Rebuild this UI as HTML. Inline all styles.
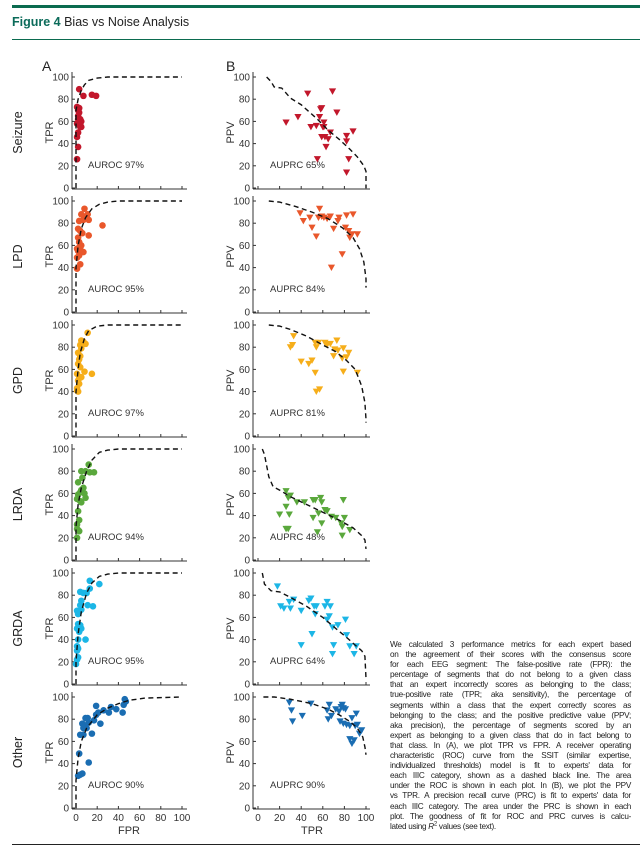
<!DOCTYPE html>
<html><head><meta charset="utf-8">
<style>
body{margin:0;background:#fff;width:640px;height:853px;overflow:hidden;font-family:"Liberation Sans",sans-serif;}
#desc{position:absolute;left:390px;top:640px;width:241px;font-size:8.2px;letter-spacing:-0.3px;line-height:10.1px;color:#222;}
#desc div{text-align:justify;text-align-last:justify;white-space:nowrap;}
#desc div.last{text-align-last:left;}
</style></head><body>
<div style="position:absolute;left:12px;top:5px;width:628px;height:3px;background:#0b6b4f"></div>
<div style="position:absolute;left:12px;top:15px;font-size:12.5px;color:#222"><b style="color:#0b6b5a">Figure 4</b> Bias vs Noise Analysis</div>
<div style="position:absolute;left:12px;top:39px;width:628px;height:1px;background:#0b6b4f"></div>
<div style="position:absolute;left:12px;top:844px;width:628px;height:1px;background:#222"></div>
<svg id="chart" width="640" height="853" style="position:absolute;left:0;top:0"></svg>
<div id="desc">
<div>We calculated 3 performance metrics for each expert based</div>
<div>on the agreement of their scores with the consensus score</div>
<div>for each EEG segment: The false-positive rate (FPR): the</div>
<div>percentage of segments that do not belong to a given class</div>
<div>that an expert incorrectly scores as belonging to the class;</div>
<div>true-positive rate (TPR; aka sensitivity), the percentage of</div>
<div>segments within a class that the expert correctly scores as</div>
<div>belonging to the class; and the positive predictive value (PPV;</div>
<div>aka precision), the percentage of segments scored by an</div>
<div>expert as belonging to a given class that do in fact belong to</div>
<div>that class. In (A), we plot TPR vs FPR. A receiver operating</div>
<div>characteristic (ROC) curve from the SSIT (similar expertise,</div>
<div>individualized thresholds) model is fit to experts' data for</div>
<div>each IIIC category, shown as a dashed black line. The area</div>
<div>under the ROC is shown in each plot. In (B), we plot the PPV</div>
<div>vs TPR. A precision recall curve (PRC) is fit to experts' data for</div>
<div>each IIIC category. The area under the PRC is shown in each</div>
<div>plot. The goodness of fit for ROC and PRC curves is calcu-</div>
<div class="last">lated using <i>R</i><sup style="font-size:6px;line-height:0">2</sup> values (see text).</div>
</div>
<script>
const categories=["Seizure","LPD","GPD","LRDA","GRDA","Other"];
const colors=["#c2172b","#e9572b","#f6ae1a","#5aa83c","#1cb6e6","#1a6db2"];
const auroc=[97,95,97,94,95,90];
const auprc=[65,84,81,48,64,90];
const ticks=[0,20,40,60,80,100];
const rocPts=[
[[3,89],[7,83],[15,84],[19,83],[1,73],[2,70],[3,72],[2,65],[4,62],[5,60],[3,58],[1,58],[4,55],[5,55],[2,50],[1,46],[2,37],[1,26],[3,68],[2,62],[4,57]],
[[3,82],[5,88],[8,93],[11,88],[12,83],[7,83],[9,85],[2,75],[4,73],[6,71],[12,69],[25,78],[2,67],[3,63],[4,60],[4,58],[5,60],[1,57],[2,55],[7,54],[1,49],[3,51],[4,43],[1,39]],
[[11,93],[5,86],[7,85],[4,82],[9,83],[5,79],[2,75],[4,72],[3,69],[2,65],[4,62],[1,56],[8,58],[15,56],[3,52],[5,53],[2,50],[3,47],[1,41],[2,40],[1,43]],
[[12,86],[5,80],[9,80],[13,79],[17,79],[6,74],[2,70],[7,65],[5,63],[4,61],[2,59],[8,60],[9,56],[1,55],[4,53],[5,52],[2,44],[3,36],[1,32],[2,27],[3,26],[1,20],[1,28]],
[[13,93],[22,90],[13,86],[4,83],[7,82],[10,82],[5,75],[4,71],[11,71],[16,70],[1,66],[3,65],[2,63],[5,67],[2,54],[4,53],[1,50],[5,50],[3,47],[2,40],[9,40],[1,34],[2,32],[1,30],[2,24],[1,22],[0,18]],
[[2,29],[4,30],[6,31],[3,49],[12,41],[4,66],[6,76],[7,66],[9,81],[8,74],[10,72],[12,77],[15,67],[17,79],[19,84],[19,92],[21,86],[23,76],[26,88],[31,86],[33,91],[38,89],[44,86],[45,93],[47,96],[46,98],[7,72],[11,81]]
];
const rocCurve=[
[[0,0],[0,70],[2,80],[5,88],[8,93],[12,97],[20,99],[30,100],[100,100]],
[[0,0],[0,40],[2,60],[5,75],[9,85],[15,93],[22,97],[30,99],[40,100],[100,100]],
[[0,0],[0,40],[2,60],[4,75],[8,88],[12,95],[20,99],[30,100],[100,100]],
[[0,0],[0,30],[2,50],[5,65],[10,80],[15,90],[22,97],[30,99],[40,100],[100,100]],
[[0,0],[0,20],[2,45],[5,65],[10,82],[15,91],[22,97],[30,99],[40,100],[100,100]],
[[0,0],[0,25],[2,45],[5,60],[10,72],[15,78],[20,84],[30,90],[40,94],[50,97],[65,99],[100,100]]
];
const prcPts=[
[[26,59],[37,64],[46,85],[49,55],[54,56],[57,64],[58,71],[59,72],[61,59],[61,55],[59,46],[62,46],[63,37],[67,50],[65,44],[69,87],[73,68],[82,47],[82,42],[84,26],[82,14],[88,51],[55,26],[60,55]],
[[39,89],[42,82],[48,85],[50,76],[54,68],[56,85],[57,93],[59,86],[61,85],[64,84],[67,86],[70,75],[74,82],[75,85],[78,52],[68,40],[81,76],[82,87],[84,73],[85,67],[88,88],[87,70],[92,70]],
[[33,90],[32,82],[40,67],[47,65],[50,68],[53,84],[54,80],[56,84],[53,57],[54,40],[57,42],[62,84],[64,82],[67,83],[73,86],[71,78],[70,72],[74,77],[79,79],[82,71],[79,58],[84,75],[78,70],[92,57],[30,80]],
[[26,62],[28,56],[30,58],[26,48],[20,41],[29,41],[26,28],[28,28],[36,52],[43,52],[51,54],[53,54],[58,56],[59,52],[51,38],[55,25],[56,42],[59,33],[62,45],[64,44],[68,39],[72,38],[77,33],[78,30],[79,54],[80,38],[78,22],[85,27]],
[[18,88],[21,70],[24,68],[29,74],[30,68],[33,76],[40,66],[40,35],[47,75],[49,77],[50,45],[52,70],[54,70],[53,63],[62,70],[64,74],[67,70],[66,61],[64,58],[69,51],[74,53],[70,35],[69,27],[81,58],[82,44],[85,34],[89,27],[91,34]],
[[29,95],[31,88],[32,78],[41,83],[49,94],[64,88],[66,93],[65,80],[68,83],[72,89],[75,87],[77,91],[76,78],[78,93],[79,90],[81,89],[79,76],[82,75],[85,74],[87,81],[85,62],[87,58],[89,61],[91,85],[90,74],[92,75],[94,67],[96,70]]
];
const prcCurve=[
[[8,100],[12,96],[15,91],[22,90],[30,81],[40,75],[55,62],[65,52],[75,44],[85,35],[92,28],[98,20],[100,15],[100,0]],
[[10,100],[20,99],[35,95],[50,90],[65,84],[78,76],[88,67],[94,57],[98,45],[100,30],[100,22]],
[[10,100],[20,99],[30,96],[45,90],[60,82],[72,76],[82,68],[90,60],[96,45],[99,30],[100,15],[100,12]],
[[4,100],[6,95],[10,75],[14,66],[20,63],[30,57],[45,50],[60,43],[75,36],[88,29],[96,22],[99,18],[100,10]],
[[4,100],[6,90],[12,84],[20,83],[30,78],[45,70],[60,60],[72,50],[82,42],[90,35],[96,30],[99,25],[100,5]],
[[5,100],[15,100],[30,98],[50,94],[65,89],[75,84],[85,78],[92,72],[97,64],[99,55],[100,48]]
];
const svg=document.getElementById('chart');
const NS="http://www.w3.org/2000/svg";
function mk(tag,attrs,parent){const e=document.createElementNS(NS,tag);for(const k in attrs)e.setAttribute(k,attrs[k]);(parent||svg).appendChild(e);return e;}
function txt(s,x,y,attrs,parent){const t=mk('text',Object.assign({x:x,y:y,'font-family':'Liberation Sans, sans-serif'},attrs),parent);t.textContent=s;return t;}
const panels=[{x0:76,x1:182,axis:72,end:187,label:'A',lx:42},{x0:258,x1:366,axis:253,end:370,label:'B',lx:226}];
panels.forEach(p=>{const t=txt(p.label,p.lx,71,{'font-size':14,fill:'#222'});

});
categories.forEach((cat,i)=>{
  const y100=77+i*124,y0=188+i*124;
  const g0=mk('g',{});
  
  
  const rl=txt(cat,0,0,{'font-size':12.5,fill:'#222','text-anchor':'middle',transform:`translate(22,${(y100+y0)/2}) rotate(-90)`},g0);
  
  
  panels.forEach((p,pi)=>{
    const xs=v=>p.x0+(v/100)*(p.x1-p.x0);
    const yv=v=>y0-(v/100)*(y0-y100);
    const g=mk('g',{},g0);
    
    
    mk('line',{x1:p.axis,y1:y100-5,x2:p.axis,y2:y0+1,stroke:'#333','stroke-width':1},g);
    mk('line',{x1:p.axis,y1:y0+1,x2:p.end,y2:y0+1,stroke:'#333','stroke-width':1},g);
    ticks.forEach(t=>{
      mk('line',{x1:p.axis,y1:yv(t),x2:p.axis+3,y2:yv(t),stroke:'#333','stroke-width':1},g);
      txt(String(t),p.axis-3,yv(t)+3.5,{'font-size':10,fill:'#333','text-anchor':'end'},g);
      mk('line',{x1:xs(t),y1:y0+1,x2:xs(t),y2:y0-2,stroke:'#333','stroke-width':1},g);
      if(i===5) txt(String(t),xs(t),y0+13,{'font-size':10,fill:'#333','text-anchor':'middle'},g);
    });
    if(i===5){const xl=txt(pi?'TPR':'FPR',(p.x0+p.x1)/2,y0+26,{'font-size':11,fill:'#333','text-anchor':'middle'},g);
      
      }
    const yl=txt(pi?'PPV':'TPR',0,0,{'font-size':11,fill:'#333','text-anchor':'middle',transform:`translate(${p.axis-19},${(y100+y0)/2}) rotate(-90)`},g);
    
    
    const au=txt((pi?'AUPRC ':'AUROC ')+(pi?auprc[i]:auroc[i])+'%',p.x0+12,y0-20,{'font-size':9.5,fill:'#333'},g);
    
    
    const pts=pi?prcPts[i]:rocPts[i];
    pts.forEach(d=>{
      const cx=xs(d[0]),cy=yv(d[1]);let m;
      if(pi) m=mk('polygon',{points:`${cx-3.6},${cy-3} ${cx+3.6},${cy-3} ${cx},${cy+3.4}`,fill:colors[i]},g);
      else m=mk('circle',{cx:cx,cy:cy,r:3.3,fill:colors[i]},g);
      
      
    });
    const cv=pi?prcCurve[i]:rocCurve[i];
    const path=mk('polyline',{points:cv.map(d=>xs(d[0])+','+yv(d[1])).join(' '),fill:'none',stroke:'#111','stroke-width':1.4,'stroke-dasharray':'5,3.5'},g);
    
    
  });
});
</script>
</body></html>
